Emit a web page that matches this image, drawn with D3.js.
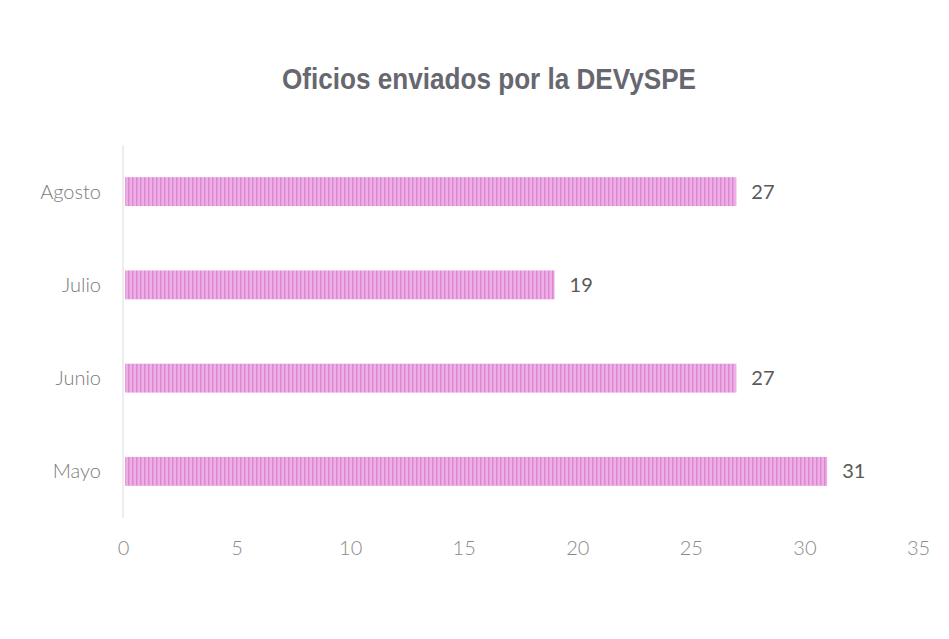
<!DOCTYPE html>
<html><head><meta charset="utf-8">
<script src="https://cdn.jsdelivr.net/npm/d3@7"></script>
<style>body{margin:0;background:#fff}</style>
</head><body>
<svg id="c" width="949" height="639"></svg>
<script>
const categories = ["Agosto","Julio","Junio","Mayo"];
const values = [27,19,27,31];
const xTicks = [0,5,10,15,20,25,30,35];
const title = "Oficios enviados por la DEVySPE";

const svg = d3.select("#c");
const m = {l:123, r:31, t:145, b:121};
const W = 949, H = 639;
const x = d3.scaleLinear().domain([0,35]).range([m.l, W-m.r]);
const y = d3.scaleBand().domain(categories).range([m.t, H-m.b]).paddingInner(0.69).paddingOuter(0.345);

svg.append("rect").attr("width",W).attr("height",H).attr("fill","#fff");

const defs = svg.append("defs");
const pat = defs.append("pattern").attr("id","stripe").attr("patternUnits","userSpaceOnUse").attr("width",4).attr("height",4);
pat.append("rect").attr("width",4).attr("height",4).attr("fill","#eeaee6");
pat.append("rect").attr("width",1.5).attr("height",4).attr("fill","#dc88d3");

svg.append("text").attr("x",489).attr("y",89).attr("text-anchor","middle")
  .attr("font-family","'Liberation Sans Narrow','Arial Narrow','Liberation Sans',sans-serif")
  .attr("font-weight","bold").attr("font-size",30).attr("fill","#676770")
  .attr("textLength",414).attr("lengthAdjust","spacingAndGlyphs").text(title);

svg.append("line").attr("x1",m.l).attr("x2",m.l).attr("y1",m.t).attr("y2",H-m.b)
  .attr("stroke","#dcdcdc").attr("stroke-width",1);

svg.selectAll(".bar").data(categories).join("rect")
  .attr("x",x(0)+2).attr("y",d=>y(d)).attr("height",y.bandwidth())
  .attr("width",(d,i)=>x(values[i])-x(0)-2).attr("fill","url(#stripe)");

svg.selectAll(".val").data(categories).join("text")
  .attr("x",(d,i)=>x(values[i])+15).attr("y",d=>y(d)+y.bandwidth()/2)
  .attr("dy","0.35em").attr("font-family","Lato,'Open Sans',sans-serif").attr("font-size",20)
  .attr("fill","#595959").text((d,i)=>values[i]);

svg.selectAll(".cat").data(categories).join("text")
  .attr("x",101).attr("y",d=>y(d)+y.bandwidth()/2).attr("dy","0.35em")
  .attr("text-anchor","end").attr("font-family","Lato,'Open Sans',sans-serif").attr("font-weight",300).attr("font-size",20)
  .attr("fill","#7a7a7a").text(d=>d);

const xa = svg.append("g").attr("transform",`translate(0,${H-m.b})`)
  .call(d3.axisBottom(x).tickValues(xTicks).tickSize(0).tickPadding(23));
xa.select(".domain").remove();
xa.selectAll("text").attr("font-family","Lato,'Open Sans',sans-serif").attr("font-weight",300).attr("font-size",20).attr("fill","#8a8a8a");
</script>
</body></html>
